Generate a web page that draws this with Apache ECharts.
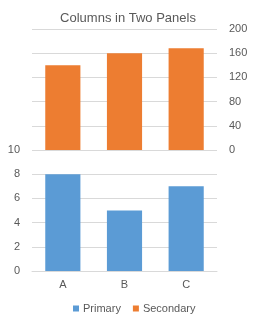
<!DOCTYPE html>
<html>
<head>
<meta charset="utf-8">
<script src="https://cdn.jsdelivr.net/npm/echarts@6/dist/echarts.min.js"></script>
<style>
  html, body { margin: 0; padding: 0; background: #fff; }
  #chart { width: 256px; height: 320px; }
</style>
</head>
<body>
<div id="chart"></div>
<script>
const categories = ["A", "B", "C"];
const primary = [8, 5, 7];
const secondary = [140, 160, 168];
const primaryTicks = [0, 10, 2];
const secondaryTicks = [0, 200, 40];

const chart = echarts.init(document.getElementById("chart"));
const txt = "#595959";
const grid = "#d9d9d9";
const font = "Liberation Sans";

chart.setOption({
  animation: false,
  title: {
    text: "Columns in Two Panels",
    left: "center",
    top: 7,
    textStyle: { color: txt, fontSize: 13, fontWeight: "normal", fontFamily: font },
  },
  legend: {
    top: 298,
    left: 68,
    itemWidth: 6,
    itemHeight: 6,
    itemGap: 12,
    icon: "rect",
    textStyle: { color: txt, fontSize: 11, fontFamily: font, padding: [0, 0, 0, -1] },
    data: ["Primary", "Secondary"],
  },
  grid: [
    { left: 32, right: 39, top: 29, height: 121 },
    { left: 32, right: 39, top: 150, height: 121 },
  ],
  xAxis: [
    {
      gridIndex: 0,
      type: "category",
      data: categories,
      axisLine: { show: false },
      axisTick: { show: false },
      axisLabel: { show: false },
    },
    {
      gridIndex: 1,
      type: "category",
      data: categories,
      axisLine: { lineStyle: { color: grid } },
      axisTick: { show: false },
      axisLabel: { color: txt, fontSize: 11, fontFamily: font, margin: 8 },
    },
  ],
  yAxis: [
    {
      gridIndex: 0,
      type: "value",
      position: "right",
      min: secondaryTicks[0],
      max: secondaryTicks[1],
      interval: secondaryTicks[2],
      axisLine: { show: false },
      axisTick: { show: false },
      splitLine: { lineStyle: { color: grid } },
      axisLabel: { color: txt, fontSize: 11, fontFamily: font, margin: 12 },
    },
    {
      gridIndex: 1,
      type: "value",
      min: primaryTicks[0],
      max: primaryTicks[1],
      interval: primaryTicks[2],
      axisLine: { show: false },
      axisTick: { show: false },
      splitLine: { lineStyle: { color: grid } },
      axisLabel: { color: txt, fontSize: 11, fontFamily: font, margin: 12 },
    },
  ],
  series: [
    {
      name: "Primary",
      type: "bar",
      xAxisIndex: 1,
      yAxisIndex: 1,
      data: primary,
      barWidth: "57%",
      itemStyle: { color: "#5b9bd5" },
    },
    {
      name: "Secondary",
      type: "bar",
      xAxisIndex: 0,
      yAxisIndex: 0,
      data: secondary,
      barWidth: "57%",
      itemStyle: { color: "#ed7d31" },
    },
  ],
});
</script>
</body>
</html>
